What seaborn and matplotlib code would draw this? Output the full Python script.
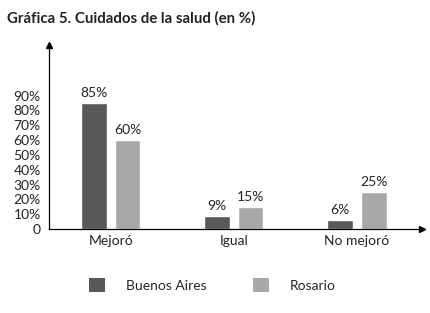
import pandas as pd
import seaborn as sns
import matplotlib.pyplot as plt
from matplotlib.patches import Patch

categorias = ['Mejoró', 'Igual', 'No mejoró']
buenos_aires = [85, 9, 6]
rosario = [60, 15, 25]
series = ['Buenos Aires', 'Rosario']
colores = ['#58585a', '#a8a8aa']
yticks = [0, 10, 20, 30, 40, 50, 60, 70, 80, 90]
ylabels = ['0'] + [f'{v}%' for v in yticks[1:]]

df = pd.DataFrame({
    'categoria': categorias * 2,
    'valor': buenos_aires + rosario,
    'ciudad': [series[0]] * 3 + [series[1]] * 3,
})

sns.set_style('white')
plt.rcParams['font.family'] = ['Lato', 'DejaVu Sans']

fig = plt.figure(figsize=(4.31, 3.13), dpi=100)
ax = fig.add_axes([0.114, 0.268, 0.865, 0.588])

sns.barplot(data=df, x='categoria', y='valor', hue='ciudad', order=categorias,
            hue_order=series, palette=colores, width=0.55, gap=0.24,
            saturation=1, legend=False, ax=ax)

for cont in ax.containers:
    ax.bar_label(cont, fmt='%g%%', padding=3, fontsize=10, color='#222222')

ax.set_xlim(-0.5, 2.53)
ax.set_ylim(0, 124)
ax.set_yticks(yticks)
ax.set_yticklabels(ylabels, fontsize=10, color='#222222')
ax.tick_params(axis='y', length=5, width=0.8, color='black', direction='out', pad=1)
ax.tick_params(axis='x', length=0, labelsize=10, labelcolor='#222222', pad=4)
ax.set_xticks([0.5, 1.5], minor=True)
ax.tick_params(axis='x', which='minor', length=7, width=0.8, direction='inout', color='black')
ax.set_xlabel('')
ax.set_ylabel('')

sns.despine(ax=ax)
for s in ['left', 'bottom']:
    ax.spines[s].set_color('black')
    ax.spines[s].set_linewidth(0.9)
ax.plot(1, 0, '>k', markersize=5, transform=ax.transAxes, clip_on=False)
ax.plot(0, 1, '^k', markersize=5, transform=ax.transAxes, clip_on=False)

fig.text(0.016, 0.94, 'Gráfica 5. Cuidados de la salud (en %)', fontsize=10.8,
         fontweight='bold', color='#222222', va='center')

handles = [Patch(facecolor=c, edgecolor='none') for c in colores]
fig.legend(handles, series, loc='center left', bbox_to_anchor=(0.177, 0.089),
           ncol=2, frameon=False, fontsize=10, handlelength=1.15, handleheight=1.15,
           handletextpad=1.5, columnspacing=3.4)

fig.savefig('out.png', dpi=100)
